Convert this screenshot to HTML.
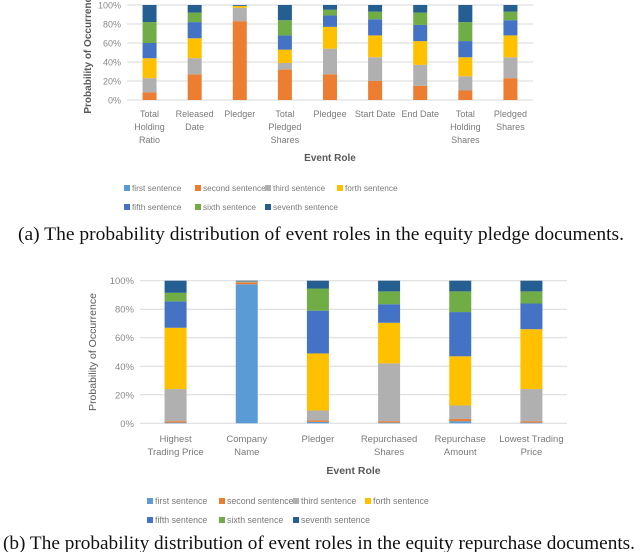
<!DOCTYPE html>
<html><head><meta charset="utf-8"><style>
body{margin:0;background:#fff;width:640px;height:552px;overflow:hidden}
svg{display:block}
text{font-family:"Liberation Sans",sans-serif}
.cap{font-family:"Liberation Serif",serif;font-size:19px;fill:#111}
</style></head><body>
<svg id="s" width="640" height="552">
<text class="cap" x="18" y="240" textLength="606" lengthAdjust="spacingAndGlyphs">(a)  The probability distribution of event roles in the equity pledge documents.</text>
<text class="cap" x="3" y="549" textLength="632" lengthAdjust="spacingAndGlyphs">(b)  The probability distribution of event roles in the equity repurchase documents.</text>
</svg>
<script>
const seriesNames=["first sentence","second sentence","third sentence","forth sentence","fifth sentence","sixth sentence","seventh sentence"];
const colors=["#5B9BD5","#ED7D31","#B0B0B0","#FFC000","#4472C4","#70AD47","#255E91"];
const yTicks=["0%","20%","40%","60%","80%","100%"];
const catsA=[["Total","Holding","Ratio"],["Released","Date"],["Pledger"],["Total","Pledged","Shares"],["Pledgee"],["Start Date"],["End Date"],["Total","Holding","Shares"],["Pledged","Shares"]];
const first_A=[0,0,0,0,0,0,0,0,0];
const second_A=[8,27,83,32,27,20,15,10,23];
const third_A=[15,17,14,7,27,25,22,15,22];
const forth_A=[21,21,2,14,23,23,25,20,23];
const fifth_A=[16,17,0.5,15,12,17,17,17,16];
const sixth_A=[22,10,0,16,6,8,13,20,9];
const seventh_A=[18,8,0.5,16,5,7,8,18,7];
const catsB=[["Highest","Trading Price"],["Company","Name"],["Pledger"],["Repurchased","Shares"],["Repurchase","Amount"],["Lowest Trading","Price"]];
const first_B=[0.5,97.5,1,0.5,1.5,0.5];
const second_B=[1,1.3,1,1,1.5,1];
const third_B=[22.5,0.5,7,40.5,9.5,22.5];
const forth_B=[43,0,40,28.5,34.5,42];
const fifth_B=[18.5,0,30,13,31,18];
const sixth_B=[6,0.2,15.5,9,14.5,8.5];
const seventh_B=[8.5,0.5,5.5,7.5,7.5,7.5];
const NS="http://www.w3.org/2000/svg";
const svg=document.getElementById('s');
function mk(t,a,p){const e=document.createElementNS(NS,t);for(const k in a)e.setAttribute(k,a[k]);(p||svg).appendChild(e);return e;}
function chart(o){
  const g=mk('g',{});
  
  
  const y=v=>o.y0-(v/100)*(o.y0-o.y1);
  const n=o.cats.length,step=(o.x1-o.xs)/n;
  const x=i=>o.xs+step*(i+0.5);
  yTicks.forEach((t,i)=>{const v=i*20;
    const l=mk('line',{x1:o.xs,x2:o.x1,y1:y(v),y2:y(v),stroke:'#d9d9d9','stroke-width':1},g);
    
    
    const tx=mk('text',{x:o.xs-6,y:y(v)+3.5,'text-anchor':'end','font-size':o.fs,fill:'#8a8a8a'},g);
    tx.textContent=t;
    
    
  });
  o.cats.forEach((c,i)=>{
    let acc=0;
    o.series.forEach((s,k)=>{const v=s[i];if(v<=0){return;}
      const r=mk('rect',{x:x(i)-o.bw/2,y:y(acc+v),width:o.bw,height:y(acc)-y(acc+v),fill:colors[k]},g);
      
      
      acc+=v;});
    c.forEach((ln,j)=>{const t=mk('text',{x:x(i),y:o.ly+j*o.lh,'text-anchor':'middle','font-size':o.fs,fill:'#7a7a7a'},g);
      t.textContent=ln;
      
      });
  });
  const xt=mk('text',{x:(o.xs+o.x1)/2,y:o.xty,'text-anchor':'middle','font-size':o.fs+1,'font-weight':'bold',fill:'#595959'},g);
  xt.textContent='Event Role';
  
  
  const yt=mk('text',{x:0,y:0,transform:`translate(${o.ytx},${(o.y0+o.y1)/2}) rotate(-90)`,'text-anchor':'middle','font-size':o.fs+1,'font-weight':o.ytb,fill:'#595959'},g);
  yt.textContent='Probability of Occurrence';
  
  
  seriesNames.forEach((nm,k)=>{const row=k<4?0:1,col=k%4;
    const lx=o.lx[col],ly=o.legy[row];
    const e=mk('g',{},g);
    
    
    mk('rect',{x:lx,y:ly-6,width:6,height:6,fill:colors[k]},e);
    const t=mk('text',{x:lx+8,y:ly,'font-size':o.lfs,fill:'#7a7a7a'},e);t.textContent=nm;});
}
chart({name:'chart-pledge',cats:catsA,series:[first_A,second_A,third_A,forth_A,fifth_A,sixth_A,seventh_A],
  xs:127,x1:533,y0:100,y1:5,bw:14,fs:9,lfs:8.3,ly:117,lh:13,xty:161,ytx:91,ytb:'bold',lx:[124,195,265,337],legy:[191,210]});
chart({name:'chart-repurchase',cats:catsB,series:[first_B,second_B,third_B,forth_B,fifth_B,sixth_B,seventh_B],
  xs:140,x1:567,y0:423.3,y1:280.7,bw:22,fs:9.5,lfs:8.8,ly:442,lh:13,xty:474,ytx:96,ytb:'normal',lx:[147,219,293,365],legy:[504,523]});
</script>
</body></html>
